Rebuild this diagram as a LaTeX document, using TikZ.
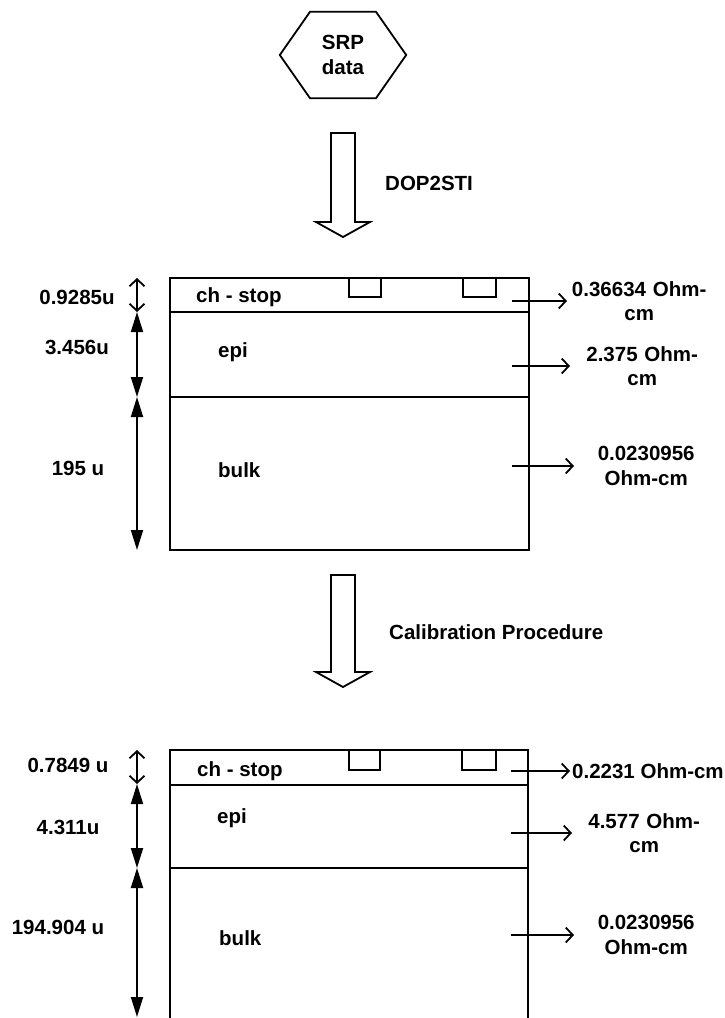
\documentclass[tikz,border=0pt]{standalone}
\usepackage{fontspec}
\setmainfont{Liberation Sans}
\usetikzlibrary{arrows.meta,positioning,calc}
\tikzset{
  sr-line/.style={line width=1.8pt, draw=black},
  sr-text/.style={font=\fontsize{20.5}{24.5}\selectfont\bfseries, inner sep=0pt},
  sr-layer/.style={sr-text, anchor=west},
  sr-dim/.style={sr-text, anchor=center},
  sr-rho/.style={sr-text, anchor=west, align=center, text width=142pt,
    inner xsep=1pt},
  sr-open/.style={sr-line,
    {Straight Barb[length=7pt,width=15pt]}-{Straight Barb[length=7pt,width=15pt]}},
  sr-full/.style={sr-line,
    {Triangle[length=20pt,width=12pt]}-{Triangle[length=20pt,width=12pt]}},
  sr-flow/.style={sr-line, -{Straight Barb[length=7pt,width=15pt]}},
  sr-big/.style={sr-line, fill=white, line join=miter}
}

\begin{document}
\begin{tikzpicture}[x=1pt, y=-1pt]
\useasboundingbox (0,0) rectangle (724,1018);
\clip (0,0) rectangle (724,1018);

% SRP data
\node[sr-text, align=center, minimum width=126pt, minimum height=86pt]
  (srp) at (343,55) {SRP\\data};
\draw[sr-line] ([xshift=-33pt]srp.north) -- ([xshift=33pt]srp.north)
  -- (srp.east) -- ([xshift=33pt]srp.south) -- ([xshift=-33pt]srp.south)
  -- (srp.west) -- cycle;

% DOP2STI
\draw[sr-big] (331,133) -- (355,133) -- (355,222) -- (370,222) -- (343,237)
  -- (316,222) -- (331,222) -- cycle;
\node[sr-layer] (dop) at (385,183) {DOP2STI};

% first structure
\draw[sr-line] (170,278) rectangle (529,550);
\draw[sr-line] (170,312) -- (529,312);
\draw[sr-line] (170,397) -- (529,397);
\draw[sr-line] (349,278) |- (381,297) -- (381,278);
\draw[sr-line] (463,278) |- (496,297) -- (496,278);

\node[sr-layer] (cs1) at (196,297) {ch - stop};
\node[sr-layer] (epi1) at (218,352) {epi};
\node[sr-layer] (bulk1) at (218,470) {bulk};

\coordinate (d1a) at (137,278);
\coordinate (d1b) at (137,312);
\coordinate (d1c) at (137,397);
\coordinate (d1d) at (137,550);
\draw[sr-open] (d1a) -- (d1b);
\draw[sr-full] (d1b) -- (d1c);
\draw[sr-full] (d1c) -- (d1d);
\node[sr-dim] (t1cs) at (77,297) {0.9285u};
\node[sr-dim] (t1epi) at (77,347) {3.456u};
\node[sr-dim] (t1bulk) at (78,468) {195 u};

\coordinate (cs1r) at (512,301);
\coordinate (epi1r) at (512,366);
\coordinate (bulk1r) at (512,466);
\node[sr-rho] (rho1cs) at (567,301) {0.36634 Ohm-\\cm};
\node[sr-rho] (rho1epi) at (570,366) {2.375 Ohm-\\cm};
\node[sr-rho] (rho1bulk) at (574,466) {0.0230956\\Ohm-cm};
\draw[sr-flow] (cs1r) -- (rho1cs);
\draw[sr-flow] (epi1r) -- (rho1epi);
\draw[sr-flow] (bulk1r) -- (rho1bulk);

% Calibration Procedure
\draw[sr-big] (331,575) -- (355,575) -- (355,672) -- (370,672) -- (343,687)
  -- (316,672) -- (331,672) -- cycle;
\node[sr-layer] (cal) at (389,632) {Calibration Procedure};

% second structure
\draw[sr-line] (170,750) rectangle (528,1040);
\draw[sr-line] (170,785) -- (528,785);
\draw[sr-line] (170,868) -- (528,868);
\draw[sr-line] (349,750) |- (380,770) -- (380,750);
\draw[sr-line] (462,750) |- (496,770) -- (496,750);

\node[sr-layer] (cs2) at (197,771) {ch - stop};
\node[sr-layer] (epi2) at (217,818) {epi};
\node[sr-layer] (bulk2) at (219,938) {bulk};

\coordinate (d2a) at (137,750);
\coordinate (d2b) at (137,784);
\coordinate (d2c) at (137,868);
\coordinate (d2d) at (137,1017);
\draw[sr-open] (d2a) -- (d2b);
\draw[sr-full] (d2b) -- (d2c);
\draw[sr-full] (d2c) -- (d2d);
\node[sr-dim] (t2cs) at (68,765) {0.7849 u};
\node[sr-dim] (t2epi) at (68,827) {4.311u};
\node[sr-dim] (t2bulk) at (58,927) {194.904 u};

\coordinate (cs2r) at (511,771);
\coordinate (epi2r) at (511,833);
\coordinate (bulk2r) at (511,935);
\node[sr-layer, inner xsep=2pt] (rho2cs) at (570,771) {0.2231 Ohm-cm};
\node[sr-rho] (rho2epi) at (572,833) {4.577 Ohm-\\cm};
\node[sr-rho] (rho2bulk) at (574,935) {0.0230956\\Ohm-cm};
\draw[sr-flow] (cs2r) -- (rho2cs);
\draw[sr-flow] (epi2r) -- (rho2epi);
\draw[sr-flow] (bulk2r) -- (rho2bulk);
\end{tikzpicture}
\end{document}
